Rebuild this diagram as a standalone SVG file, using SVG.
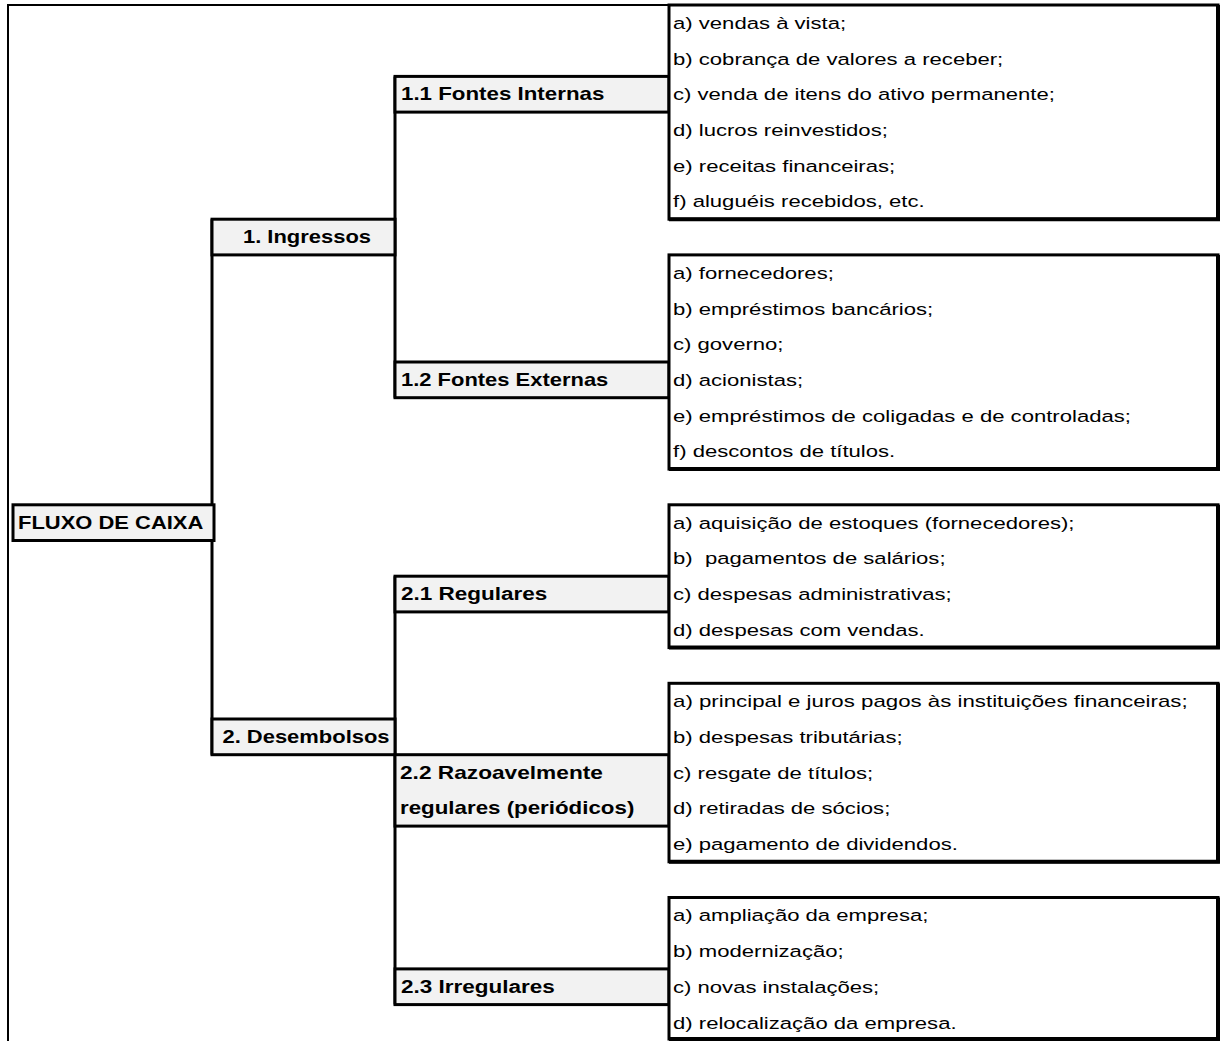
<svg xmlns="http://www.w3.org/2000/svg" width="1225" height="1041" viewBox="0 0 1225 1041">
<style>
.t{font-family:"Liberation Sans",Arial,sans-serif;font-size:17px;fill:#000}
.b{font-family:"Liberation Sans",Arial,sans-serif;font-size:18px;font-weight:bold;fill:#000}
.n{fill:#f2f2f2;stroke:#000;stroke-width:3}
.l{fill:#fff;stroke:#000;stroke-width:3}
.s{fill:none;stroke:#000;stroke-width:4}
.c{fill:none;stroke:#000;stroke-width:3}
</style>
<rect x="0" y="0" width="1225" height="1041" fill="#fff"/>
<path d="M8,1041 V5 H1218" fill="none" stroke="#000" stroke-width="2"/>
<g id="connectors">
<line class="c" x1="212" y1="219.2" x2="212" y2="754.7"/>
<line class="c" x1="395" y1="76.4" x2="395" y2="397.7"/>
<line class="c" x1="395" y1="576.2" x2="395" y2="1004.6"/>
</g>
<g id="fluxo"><rect class="n" x="13" y="504.8" width="201" height="35.7"/><text class="b" transform="translate(18,528.7) scale(1.22,1)">FLUXO DE CAIXA</text></g>
<g id="ingressos"><rect class="n" x="212" y="219.2" width="183" height="35.7"/><text class="b" text-anchor="middle" transform="translate(307,243.1) scale(1.22,1)">1. Ingressos</text></g>
<g id="desembolsos"><rect class="n" x="212" y="719" width="183" height="35.7"/><text class="b" text-anchor="middle" transform="translate(306,742.9) scale(1.22,1)">2. Desembolsos</text></g>
<g id="n11"><rect class="n" x="395" y="76.4" width="274" height="35.7"/><text class="b" transform="translate(401,100.3) scale(1.24,1)">1.1 Fontes Internas</text></g>
<g id="n12"><rect class="n" x="395" y="362" width="274" height="35.7"/><text class="b" transform="translate(401,385.9) scale(1.22,1)">1.2 Fontes Externas</text></g>
<g id="n21"><rect class="n" x="395" y="576.2" width="274" height="35.7"/><text class="b" transform="translate(401,600.1) scale(1.25,1)">2.1 Regulares</text></g>
<g id="n22"><rect class="n" x="395" y="754.7" width="274" height="71.4"/><text class="b" transform="translate(400,778.6) scale(1.26,1)">2.2 Razoavelmente</text><text class="b" transform="translate(400,814.3) scale(1.24,1)">regulares (periódicos)</text></g>
<g id="n23"><rect class="n" x="395" y="968.9" width="274" height="35.7"/><text class="b" transform="translate(401,992.8) scale(1.25,1)">2.3 Irregulares</text></g>
<g id="itens11"><rect class="l" x="669" y="5" width="549" height="214.2"/><path class="s" d="M669,219.2 H1218 V5"/>
<text class="t" transform="translate(673,28.9) scale(1.3,1)">a) vendas à vista;</text>
<text class="t" transform="translate(673,64.6) scale(1.3,1)">b) cobrança de valores a receber;</text>
<text class="t" transform="translate(673,100.3) scale(1.3,1)">c) venda de itens do ativo permanente;</text>
<text class="t" transform="translate(673,136) scale(1.3,1)">d) lucros reinvestidos;</text>
<text class="t" transform="translate(673,171.7) scale(1.3,1)">e) receitas financeiras;</text>
<text class="t" transform="translate(673,207.4) scale(1.3,1)">f) aluguéis recebidos, etc.</text></g>
<g id="itens12"><rect class="l" x="669" y="254.9" width="549" height="214.2"/><path class="s" d="M669,469.1 H1218 V254.9"/>
<text class="t" transform="translate(673,278.8) scale(1.3,1)">a) fornecedores;</text>
<text class="t" transform="translate(673,314.5) scale(1.3,1)">b) empréstimos bancários;</text>
<text class="t" transform="translate(673,350.2) scale(1.3,1)">c) governo;</text>
<text class="t" transform="translate(673,385.9) scale(1.3,1)">d) acionistas;</text>
<text class="t" transform="translate(673,421.6) scale(1.3,1)">e) empréstimos de coligadas e de controladas;</text>
<text class="t" transform="translate(673,457.3) scale(1.3,1)">f) descontos de títulos.</text></g>
<g id="itens21"><rect class="l" x="669" y="504.8" width="549" height="142.8"/><path class="s" d="M669,647.6 H1218 V504.8"/>
<text class="t" transform="translate(673,528.7) scale(1.3,1)">a) aquisição de estoques (fornecedores);</text>
<text class="t" transform="translate(673,564.4) scale(1.3,1)">b)&#160; pagamentos de salários;</text>
<text class="t" transform="translate(673,600.1) scale(1.3,1)">c) despesas administrativas;</text>
<text class="t" transform="translate(673,635.8) scale(1.3,1)">d) despesas com vendas.</text></g>
<g id="itens22"><rect class="l" x="669" y="683.3" width="549" height="178.5"/><path class="s" d="M669,861.8 H1218 V683.3"/>
<text class="t" transform="translate(673,707.2) scale(1.31,1)">a) principal e juros pagos às instituições financeiras;</text>
<text class="t" transform="translate(673,742.9) scale(1.3,1)">b) despesas tributárias;</text>
<text class="t" transform="translate(673,778.6) scale(1.3,1)">c) resgate de títulos;</text>
<text class="t" transform="translate(673,814.3) scale(1.3,1)">d) retiradas de sócios;</text>
<text class="t" transform="translate(673,850) scale(1.3,1)">e) pagamento de dividendos.</text></g>
<g id="itens23"><rect class="l" x="669" y="897.5" width="549" height="141.5"/><path class="s" d="M669,1039 H1218 V897.5"/>
<text class="t" transform="translate(673,921.4) scale(1.3,1)">a) ampliação da empresa;</text>
<text class="t" transform="translate(673,957.1) scale(1.3,1)">b) modernização;</text>
<text class="t" transform="translate(673,992.8) scale(1.3,1)">c) novas instalações;</text>
<text class="t" transform="translate(673,1028.5) scale(1.3,1)">d) relocalização da empresa.</text></g>
</svg>
